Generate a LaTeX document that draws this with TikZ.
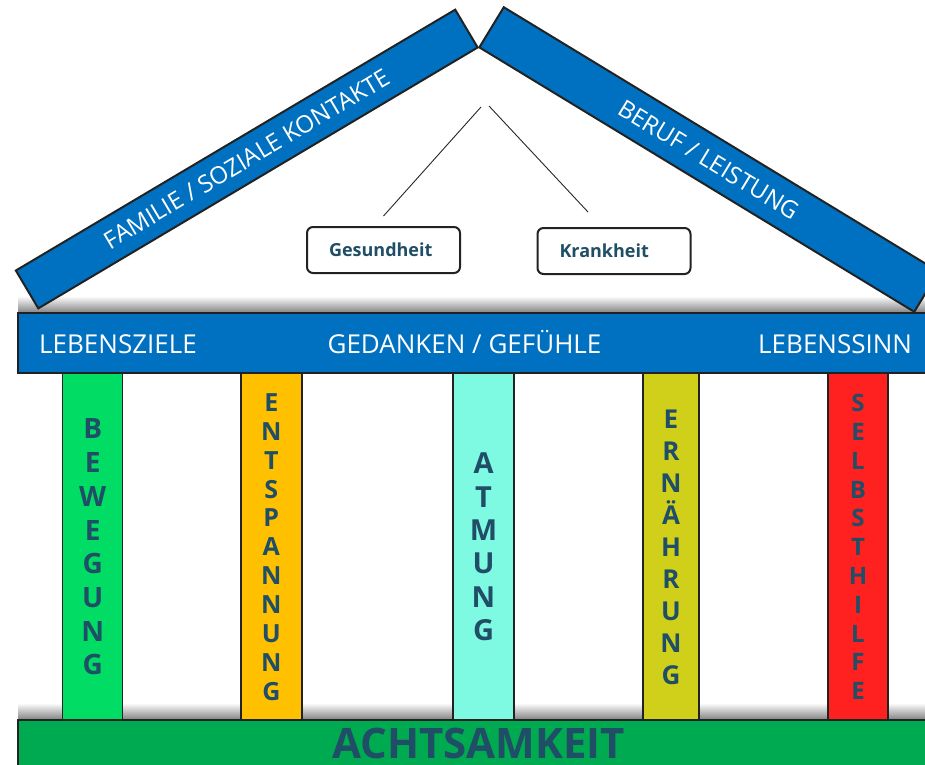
\documentclass[tikz,border=0pt]{standalone}
\usepackage{fontspec}
\setmainfont{Open Sans}
\definecolor{dach}{RGB}{0,112,192}
\definecolor{fundament}{RGB}{0,170,80}
\definecolor{schrift}{RGB}{31,78,102}
\definecolor{rand}{RGB}{34,34,34}
\definecolor{bewegungfarbe}{RGB}{0,220,100}
\definecolor{entspannungfarbe}{RGB}{255,192,0}
\definecolor{atmungfarbe}{RGB}{127,250,226}
\definecolor{ernaehrungfarbe}{RGB}{208,208,26}
\definecolor{selbsthilfefarbe}{RGB}{255,32,32}
\usetikzlibrary{positioning}
\tikzset{
  balken/.style={draw=rand, line width=2pt, fill=dach, text=white, inner sep=0pt,
              font=\fontsize{24}{24}\selectfont},
  kasten/.style={draw=rand, line width=2pt, rounded corners=6pt, fill=white, text=schrift,
              font=\bfseries\fontsize{18}{18}\selectfont, text width=109pt, inner xsep=22pt,
              minimum height=46pt, align=left},
  saeule/.style={draw=rand, line width=1.5pt, minimum height=348pt, inner sep=0pt,
              text=schrift, align=center},
  leiste/.style={draw=rand, line width=2pt, inner sep=0pt},
  leistentext/.style={text=white, font=\fontsize{26}{26}\selectfont, inner sep=0pt},
  schatten/.style={top color=white, bottom color=black!50},
  verbindung/.style={draw=black!85, line width=0.9pt},
}
\begin{document}
\begin{tikzpicture}[x=1pt, y=-1pt]
        \useasboundingbox (0,0) rectangle (925,764);
        \clip (0,0) rectangle (925,764);

        \shade[schatten] (18,296) rectangle (925,313);

        \node[balken, rotate=30.7, minimum width=511pt, minimum height=44pt] (familie)
          at (246.75,159) {FAMILIE / SOZIALE KONTAKTE};
        \node[balken, rotate=-31.3, minimum width=509pt, minimum height=47pt] (beruf)
          at (709,159.5) {BERUF / LEISTUNG};

        \coordinate (giebelL) at (481,107);
        \coordinate (giebelR) at (489,106);
        \node[kasten] (gesundheit) at (383.5,250) {Gesundheit};
        \node[kasten] (krankheit)  at (614,251)   {Krankheit};
        \draw[verbindung] (giebelL) -- ([yshift=10pt]gesundheit.north);
        \draw[verbindung] (giebelR) -- ([xshift=-26pt,yshift=15pt]krankheit.north);

        \shade[schatten] (18,703) rectangle (925,720);

        \node[saeule, fill=bewegungfarbe, minimum width=60pt,
              font=\bfseries\fontsize{28}{33.7}\selectfont] (bewegung)
          at (92.7,547) {B\\E\\W\\E\\G\\U\\N\\G};
        \node[saeule, fill=entspannungfarbe, minimum width=61pt,
              font=\bfseries\fontsize{25}{28.9}\selectfont] (entspannung)
          at (271.3,547) {E\\N\\T\\S\\P\\A\\N\\N\\U\\N\\G};
        \node[saeule, fill=atmungfarbe, minimum width=61pt,
              font=\bfseries\fontsize{29}{33.4}\selectfont] (atmung)
          at (483.5,547) {A\\T\\M\\U\\N\\G};
        \node[saeule, fill=ernaehrungfarbe, minimum width=56pt,
              font=\bfseries\fontsize{26}{32}\selectfont] (ernaehrung)
          at (671,547) {E\\R\\N\\Ä\\H\\R\\U\\N\\G};
        \node[saeule, fill=selbsthilfefarbe, minimum width=60pt,
              font=\bfseries\fontsize{24}{28.8}\selectfont] (selbsthilfe)
          at (858,547) {S\\E\\L\\B\\S\\T\\H\\I\\L\\F\\E};

        \node[leiste, fill=dach, minimum width=922pt, minimum height=60pt] (gebaelk) at (479,343) {};
        \node[leistentext, anchor=base west] (lebensziele) at (39,353) {LEBENSZIELE};
        \node[leistentext, anchor=base] (gedanken) at (464.5,353) {GEDANKEN / GEFÜHLE};
        \node[leistentext, anchor=base west] (lebenssinn) at (758,353) {LEBENSSINN};

        \node[leiste, fill=fundament, minimum width=922pt, minimum height=70pt] (sockel) at (479,755) {};
        \node[text=schrift, font=\bfseries\fontsize{42}{42}\selectfont, inner sep=0pt, anchor=base]
          (achtsamkeit) at (478.5,758) {ACHTSAMKEIT};

      \end{tikzpicture}
\end{document}
